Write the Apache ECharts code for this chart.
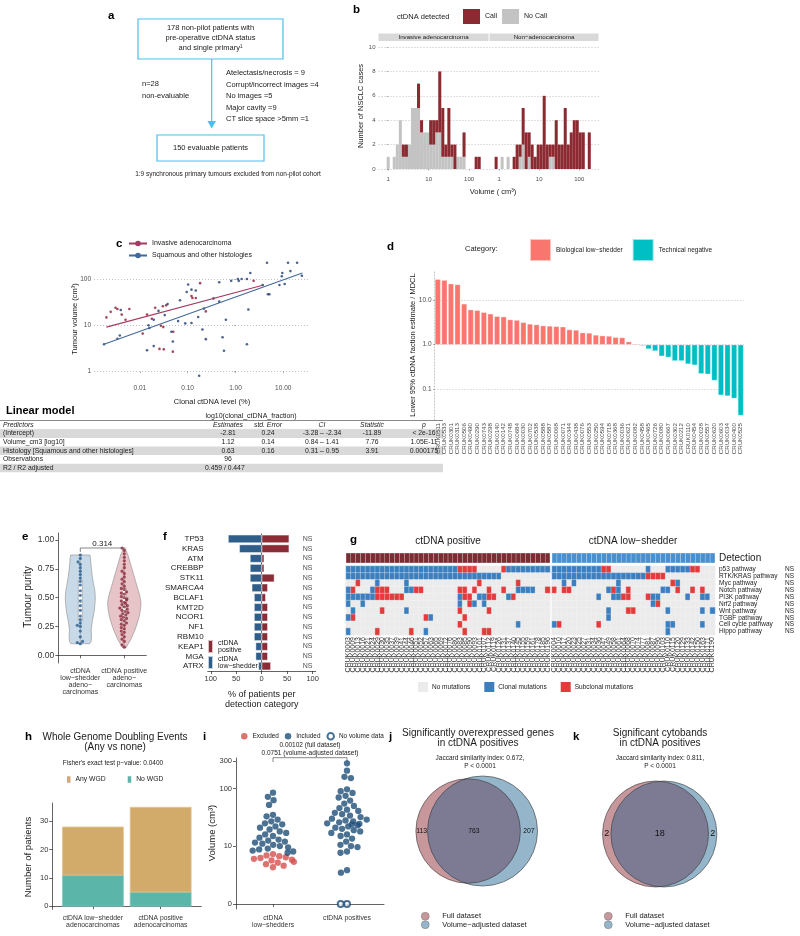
<!DOCTYPE html>
<html><head><meta charset="utf-8"><title>ctDNA figure</title>
<script src="https://cdn.jsdelivr.net/npm/echarts@6.0.0/dist/echarts.min.js"></script>
<style>html,body{margin:0;padding:0;background:#fff;}#chart{width:800px;height:936px;}</style>
</head><body><div id="chart"></div>
<script>
// ================= DATA =================
// Panel a (flow chart text)
const aTopBox = ['178 non-pilot patients with', 'pre-operative ctDNA status', 'and single primary\u00b9'];
const aNonEvaluable = ['n=28', 'non-evaluable'];
const aExcluded = ['Atelectasis/necrosis = 9', 'Corrupt/incorrect images =4', 'No images =5', 'Major cavity =9', 'CT slice space >5mm =1'];
const aBottomBox = '150 evaluable patients';
const aFootnote = '1:9 synchronous primary tumours excluded from non-pilot cohort';

// Panel b (histogram, bin centres in log10 cm3, bin width 0.075)
const bFacets = ['Invasive adenocarcinoma', 'Non\u2212adenocarcinoma'];
const bBinWidth = 0.075;
const bXTickValues = [0, 1, 2];
const bXTickLabels = ['1', '10', '100'];
const bYTickValues = [0, 2, 4, 6, 8, 10];
const bAdenoLogVol = [0.000,0.075,0.150,0.225,0.300,0.375,0.450,0.525,0.600,0.675,0.750,0.825,0.900,0.975,1.050,1.125,1.200,1.275,1.350,1.425,1.500,1.575,1.650,1.725,1.800,1.875,1.950,2.025,2.100,2.175,2.250];
const bAdenoNoCall = [1,0,1,2,4,1,1,2,5,5,5,3,3,3,2,2,3,3,1,1,1,1,0,1,1,1,0,0,0,0,0];
const bAdenoCall   = [0,0,0,0,0,1,1,0,0,0,2,1,0,0,2,2,1,5,4,1,4,1,2,0,0,2,0,0,0,1,1];
const bNonAdenoLogVol = [-0.075,0.000,0.075,0.150,0.225,0.300,0.375,0.450,0.525,0.600,0.675,0.750,0.825,0.900,0.975,1.050,1.125,1.200,1.275,1.350,1.425,1.500,1.575,1.650,1.725,1.800,1.875,1.950,2.025,2.100,2.175,2.250];
const bNonAdenoNoCall = [0,0,1,0,1,0,0,0,1,2,0,1,0,0,0,0,0,0,1,1,0,0,0,0,0,0,0,0,0,0,0,0];
const bNonAdenoCall   = [1,0,0,0,0,0,1,2,1,3,3,2,2,1,2,2,6,2,1,1,4,2,2,5,2,3,4,4,3,3,0,3];

// Panel c (log10 clonal ctDNA %, log10 volume cm3)
const cXTickValues = [-2, -1, 0, 1];
const cXTickLabels = ['0.01', '0.10', '1.00', '10.00'];
const cYTickValues = [0, 1, 2];
const cYTickLabels = ['1', '10', '100'];
const cAdenoLogCtDNA = [-2.70,-2.61,-2.51,-2.47,-2.38,-2.30,-2.22,-1.94,-1.85,-1.75,-1.68,-1.56,-1.51,-1.52,-1.45,-1.59,-1.50,-1.31,-1.30,-0.92,-0.90,-0.83,-0.74,-0.62,0.38];
const cAdenoLogVolume = [1.17,1.29,1.38,1.35,1.23,1.12,1.35,0.82,1.23,1.14,1.38,0.99,0.96,1.41,1.43,0.49,0.48,0.43,0.86,1.63,1.59,1.59,1.91,1.30,1.96];
const cSqLogCtDNA = [-2.75,-2.47,-2.42,-2.40,-1.85,-1.82,-1.80,-1.71,-1.71,-1.61,-1.48,-1.42,-1.34,-1.31,-1.20,-1.16,-1.05,-1.02,-0.99,-0.92,-0.92,-0.83,-0.78,-0.76,-0.69,-0.66,-0.62,-0.46,-0.34,-0.34,-0.27,-0.24,-0.20,-0.09,0.05,0.07,0.13,0.24,0.27,0.24,0.57,0.68,0.71,0.92,0.97,1.03,1.39,0.66,1.10,1.29,1.15,0.98,0.31];
const cSqLogVolume = [0.59,0.71,0.78,1.33,0.46,1.00,0.94,0.55,1.12,1.31,1.22,1.46,0.86,0.65,1.09,1.54,1.04,1.72,1.88,1.77,1.05,1.75,1.18,-0.09,0.91,1.36,0.70,1.58,1.51,1.93,0.74,0.45,1.12,1.96,2.00,1.96,2.00,2.00,1.34,0.59,1.87,1.67,1.67,1.87,2.06,1.89,2.07,2.35,2.35,2.35,2.17,2.13,2.13];
const cAdenoFitLogCtDNA = [-2.70, 0.59];
const cAdenoFitLogVolume = [0.96, 1.87];
const cSqFitLogCtDNA = [-2.75, 1.40];
const cSqFitLogVolume = [0.59, 2.13];

// Linear model table
const tTitle = 'Linear model';
const tResponse = 'log10(clonal_ctDNA_fraction)';
const tHeaders = ['Predictors', 'Estimates', 'std. Error', 'CI', 'Statistic', 'p'];
const tRows = [
  ['(Intercept)', '-2.81', '0.24', '-3.28 \u2013 -2.34', '-11.89', '< 2e-16'],
  ['Volume_cm3 [log10]', '1.12', '0.14', '0.84 \u2013 1.41', '7.76', '1.05E-11'],
  ['Histology [Squamous and other histologies]', '0.63', '0.16', '0.31 \u2013 0.95', '3.91', '0.000175'],
  ['Observations', '96', '', '', '', ''],
  ['R2 / R2 adjusted', '0.459 / 0.447', '', '', '', '']
];

// Panel d
const dIds = ['CRUK0511','CRUK0533','CRUK0301','CRUK0313','CRUK0506','CRUK0490','CRUK0290','CRUK0743','CRUK0298','CRUK0140','CRUK0142','CRUK0748','CRUK0684','CRUK0030','CRUK0702','CRUK0538','CRUK0588','CRUK0587','CRUK0068','CRUK0071','CRUK0344','CRUK0438','CRUK0076','CRUK0553','CRUK0250','CRUK0594','CRUK0718','CRUK0368','CRUK0036','CRUK0621','CRUK0082','CRUK0458','CRUK0465','CRUK0726','CRUK0080','CRUK0667','CRUK0302','CRUK0212','CRUK0110','CRUK0454','CRUK0028','CRUK0557','CRUK0620','CRUK0603','CRUK0034','CRUK0400','CRUK0525'];
const dRatio = [30.3,28.9,24,23,8.4,6.2,6.0,5.4,5.0,4.4,4.3,3.7,3.6,3.2,2.95,2.85,2.7,2.65,2.6,2.55,2.2,2.15,1.87,1.84,1.66,1.6,1.57,1.47,1.45,1.17,1.05,0.95,0.80,0.72,0.55,0.52,0.43,0.43,0.365,0.345,0.22,0.215,0.155,0.072,0.069,0.061,0.025];
const dCategoryCode = 'BBBBBBBBBBBBBBBBBBBBBBBBBBBBBBBTTTTTTTTTTTTTTTT'.split('');
const dCategoryNames = {B: 'Biological low\u2212shedder', T: 'Technical negative'};
const dYTickValues = [-1, 0, 1];
const dYTickLabels = ['0.1', '1.0', '10.0'];

// Panel e
const eGroups = ['ctDNA\nlow\u2212shedder\nadeno\u2212\ncarcinomas', 'ctDNA positive\nadeno\u2212\ncarcinomas'];
const eYTickValues = [0, 0.25, 0.5, 0.75, 1];
const ePurityLow = [0.10,0.11,0.12,0.16,0.21,0.25,0.26,0.28,0.31,0.34,0.39,0.43,0.47,0.52,0.56,0.61,0.64,0.67,0.70,0.73,0.76,0.79,0.81,0.84,0.87];
const ePurityPos = [0.07,0.09,0.12,0.14,0.16,0.18,0.20,0.21,0.23,0.24,0.26,0.27,0.28,0.30,0.31,0.32,0.33,0.34,0.35,0.36,0.37,0.38,0.39,0.40,0.41,0.42,0.43,0.44,0.45,0.46,0.47,0.48,0.49,0.50,0.51,0.53,0.54,0.55,0.57,0.58,0.60,0.62,0.64,0.66,0.68,0.71,0.73,0.76,0.79,0.82,0.85,0.88,0.91,0.93];
const eViolinLow = [[0.10,0.56],[0.12,0.65],[0.16,0.67],[0.22,0.65],[0.30,0.72],[0.38,0.83],[0.45,0.88],[0.50,0.90],[0.56,0.87],[0.62,0.79],[0.68,0.72],[0.74,0.67],[0.80,0.63],[0.84,0.61],[0.87,0.58]];
const eViolinPos = [[0.07,0.12],[0.10,0.24],[0.14,0.40],[0.18,0.52],[0.22,0.64],[0.28,0.78],[0.34,0.90],[0.40,0.97],[0.46,1.00],[0.52,0.92],[0.58,0.80],[0.64,0.68],[0.70,0.56],[0.76,0.44],[0.82,0.32],[0.87,0.22],[0.91,0.10],[0.93,0.04]];
const eBoxLow = [0.10, 0.30, 0.48, 0.65, 0.87];
const eBoxPos = [0.07, 0.29, 0.42, 0.58, 0.93];
const ePValue = '0.314';

// Panel f
const fGenes = ['TP53','KRAS','ATM','CREBBP','STK11','SMARCA4','BCLAF1','KMT2D','NCOR1','NF1','RBM10','KEAP1','MGA','ATRX'];
const fLowShedderPct = [66,44,23,23,23,19.5,15,15,15,15,15,12,12,6.5];
const fPositivePct = [54,54,5,5,25,12,8,12,12,12,12,12,12,18];
const fSignificance = ['NS','NS','NS','NS','NS','NS','NS','NS','NS','NS','NS','NS','NS','NS'];
const fXTickValues = [-100, -50, 0, 50, 100];
const fXTickLabels = ['100', '50', '0', '50', '100'];

// Panel g
const gPathways = ['p53 pathway','RTK/KRAS pathway','Myc pathway','Notch pathway','PI3K pathway','Nrf2 pathway','Wnt pathway','TGBF pathway','Cell cycle pathway','Hippo pathway'];
const gPathwaySignif = ['NS','NS','NS','NS','NS','NS','NS','NS','NS','NS'];
const gPosSamples = ['CRUK0003','CRUK0009','CRUK0013','CRUK0016','CRUK0021','CRUK0024','CRUK0029','CRUK0030','CRUK0035','CRUK0037','CRUK0039','CRUK0041','CRUK0044','CRUK0046','CRUK0051','CRUK0052','CRUK0057','CRUK0063','CRUK0065','CRUK0069','CRUK0072','CRUK0076','CRUK0080','CRUK0083','CRUK0085','CRUK0090','CRUK0093','CRUK0101','CRUK0107','CRUK0112','CRUK0119','CRUK0126','CRUK0131','CRUK0137','CRUK0140','CRUK0145','CRUK0155','CRUK0159','CRUK0161','CRUK0178','CRUK0185','CRUK0196'];
const gLowSamples = ['CRUK0004','CRUK0010','CRUK0017','CRUK0020','CRUK0023','CRUK0025','CRUK0027','CRUK0031','CRUK0034','CRUK0036','CRUK0047','CRUK0049','CRUK0058','CRUK0061','CRUK0064','CRUK0068','CRUK0070','CRUK0074','CRUK0077','CRUK0081','CRUK0087','CRUK0096','CRUK0103','CRUK0110','CRUK0115','CRUK0120','CRUK0129','CRUK0133','CRUK0142','CRUK0150','CRUK0163','CRUK0171','CRUK0190'];
// mutation segments per pathway: [firstSample, lastSample, status] status 1 = clonal, 2 = subclonal
const gPosSegments = [
  [[0,22,1],[23,26,2],[32,32,2],[33,41,1]],
  [[0,31,1]],
  [[2,2,2],[6,6,1],[12,12,1],[27,27,2],[35,35,2]],
  [[0,0,1],[1,1,2],[5,5,1],[6,8,2],[12,13,1],[14,15,2],[23,24,2],[26,26,2],[29,29,2],[32,32,2],[35,38,1],[41,41,2]],
  [[0,5,1],[6,11,2],[23,23,1],[24,25,2],[27,28,1],[29,30,2],[33,33,1],[34,34,2]],
  [[0,0,1],[3,3,1],[23,23,1],[25,25,2],[26,26,1],[28,28,1]],
  [[1,1,1],[7,7,2],[12,12,1],[23,23,2],[29,29,2]],
  [[0,0,1],[1,1,2],[16,16,2],[17,17,1],[24,24,2]],
  [[23,23,2],[35,35,1]],
  [[0,0,1],[6,6,2],[13,13,2],[16,16,1],[24,24,2],[28,29,2]]
];
const gLowSegments = [
  [[0,9,1],[10,11,2],[19,19,1],[23,27,1],[28,29,2]],
  [[0,18,1],[19,22,2]],
  [[2,2,1],[4,4,1],[13,13,1],[24,24,2],[25,25,1]],
  [[0,0,2],[2,3,2],[11,11,1],[12,12,2],[13,13,1],[15,15,2],[22,23,1],[25,25,2],[28,28,2],[30,30,2]],
  [[9,9,1],[12,13,1],[14,15,2],[19,19,2],[20,21,1],[27,27,1],[30,31,1]],
  [[20,20,1],[21,21,2]],
  [[11,11,1],[15,16,2],[23,23,1],[30,30,1],[32,32,1]],
  [[11,11,1]],
  [[0,0,1],[1,1,2],[9,9,2],[23,24,1],[30,30,1]],
  [[23,23,1]]
];
const gStatusLabels = ['No mutations', 'Clonal mutations', 'Subclonal mutations'];

// Panel h
const hGroups = ['ctDNA low\u2212shedder\nadenocarcinomas', 'ctDNA positive\nadenocarcinomas'];
const hNoWGD = [11, 5];
const hAnyWGD = [17, 30];
const hYTickValues = [0, 10, 20, 30];
const hFisher = "Fisher's exact test p\u2212value: 0.0400";

// Panel i (volume cm3)
const iGroups = ['ctDNA\nlow\u2212shedders', 'ctDNA positives'];
const iLowIncluded = [85,72,63,52,35,33,29,27,25,24,22,21,19.5,18,17,16,15,14,13,12.5,12,11.5,11,10.5,10,9.5,9,8.7,8.3,8,7.6];
const iLowExcluded = [7.2,6.8,6.6,6.3,6.1,5.9,5.7,5.5,5.2,5.0,4.7,4.4,4.1];
const iPosIncluded = [274,204,160,152,97,90,84,75,70,62,55,50,46,43,41,38,36,34,32,30,29,28,27,26,25,24.5,24,23,22,21,20,19,18,17,16,15,13.5,12,10.5,10,9.6,8,7.6,3.6,3.2];
const iPosNoVolume = [0, 0];
const iYTicks = [0, 10, 100, 300];
const iPValues = ['0.00102 (full dataset)', '0.0751 (volume-adjusted dataset)'];

// Panels j, k (Venn counts)
const jFullOnly = 113, jBoth = 763, jVolumeOnly = 207;
const kFullOnly = 2, kBoth = 18, kVolumeOnly = 2;
const jTitle = ['Significantly overexpressed genes', 'in ctDNA positives'];
const jStats = ['Jaccard similarity index: 0.672,', 'P < 0.0001'];
const kTitle = ['Significant cytobands', 'in ctDNA positives'];
const kStats = ['Jaccard similarity index: 0.811,', 'P < 0.0001'];
const vennSets = ['Full dataset', 'Volume\u2212adjusted dataset'];

// ================= STYLE =================
const FONT = '"Liberation Sans", Arial, Helvetica, sans-serif';
const TICK = '#4d4d4d';
const INK = '#1a1a1a';
const COL = {
  call:'#8b2a31', noCall:'#c3c3c3', strip:'#d9d9d9',
  cRed:'#8b1d33', cBlue:'#1f3d70', cRedLine:'#a33b62', cBlueLine:'#41699a',
  dRed:'#f8766d', dTeal:'#00bfc4',
  eBlueFill:'#c8d9e7', eRedFill:'#e7c4c7', eBluePt:'#2b5d8c', eRedPt:'#8b2b3c',
  fBlue:'#2e5e89', fRed:'#8c2c37',
  gNone:'#ebebeb', gClonal:'#3b7fc0', gSub:'#e33b3b', gDetPos:'#7b2d34', gDetLow:'#4a90cf',
  hGold:'#d2ab6b', hTeal:'#5bb5a9',
  iRed:'#d4504d', iBlue:'#1e4d78',
  vPink:'#c8979c', vBlue:'#95b6ca', vOverlap:'#7c7b93',
  flow:'#4dbfec'
};
const dotted = {type:[1,2], color:'#a8a8a8', width:0.7};
const lab = (vals, labels, v) => { const i = vals.findIndex(x => Math.abs(x - v) < 1e-6); return i < 0 ? '' : labels[i]; };
const pseudoLog = v => Math.asinh(v / 2) / Math.LN10;

// ================= LAYOUT =================
const grids = [
  {left:378.5, top:44.6, width:110, height:124.4},   // 0 b adeno
  {left:489.5, top:44.6, width:109, height:124.4},   // 1 b non-adeno
  {left:94, top:260, width:216, height:118.5},       // 2 c
  {left:434.5, top:271.7, width:309.5, height:148.3},// 3 d
  {left:58.3, top:533, width:88, height:130},        // 4 e
  {left:207.7, top:534, width:108, height:137},      // 5 f
  {left:346, top:566, width:204, height:69},         // 6 g positive
  {left:552, top:566, width:163, height:69},         // 7 g low-shedder
  {left:346, top:553, width:204, height:10},         // 8 detection pos
  {left:552, top:553, width:163, height:10},         // 9 detection low
  {left:52.3, top:803, width:149, height:106.3},     // 10 h
  {left:236, top:758, width:148, height:151},        // 11 i
  {left:406.7, top:761, width:140, height:140},      // 12 j
  {left:589.7, top:764, width:140, height:140}       // 13 k
].map(g => Object.assign({containLabel:false, outerBoundsMode:'none'}, g));

const blackLine = {show:true, lineStyle:{color:'#222', width:0.7}};
const blackTick = {show:true, length:3, lineStyle:{color:'#222', width:0.7}};
const hidden = (gi, type, extra) => Object.assign({gridIndex:gi, type, show:false}, extra || {});

const xAxes = [];
const yAxes = [];
// b
[0, 1].forEach(k => {
  xAxes.push({gridIndex:k, type:'value', min:-0.24, max:2.48, axisLine:{show:false},
    axisTick:{show:true, length:1.5, customValues:bXTickValues, lineStyle:{color:'#777', width:0.6}},
    axisLabel:{customValues:bXTickValues, formatter: v => lab(bXTickValues, bXTickLabels, v), fontSize:6, color:TICK, margin:7},
    splitLine:{show:false}});
  yAxes.push({gridIndex:k, type:'value', min:0, max:10.2, axisLine:{show:false},
    axisTick:{show:k === 0, length:1.5, customValues:bYTickValues, lineStyle:{color:'#777', width:0.6}},
    axisLabel:{show:k === 0, customValues:bYTickValues, fontSize:6, color:TICK, margin:3},
    splitLine:{show:true, lineStyle:dotted}});
});
// c
xAxes.push({gridIndex:2, type:'value', min:-2.96, max:1.56, axisLine:{show:false},
  axisTick:{show:true, length:1.5, customValues:cXTickValues, lineStyle:{color:'#777', width:0.6}},
  axisLabel:{customValues:cXTickValues, formatter: v => lab(cXTickValues, cXTickLabels, v), fontSize:6.5, color:TICK, margin:6},
  splitLine:{show:false}});
yAxes.push({gridIndex:2, type:'value', min:-0.15, max:2.41, axisLine:{show:false},
  axisTick:{show:true, length:1.5, customValues:cYTickValues, lineStyle:{color:'#777', width:0.6}},
  axisLabel:{customValues:cYTickValues, formatter: v => lab(cYTickValues, cYTickLabels, v), fontSize:6.5, color:TICK, margin:3},
  splitLine:{show:true, lineStyle:dotted}});
// d
xAxes.push({gridIndex:3, type:'category', data:dIds, axisLine:{show:false}, axisTick:{show:false},
  axisLabel:{rotate:90, interval:0, fontSize:6.2, color:TICK, margin:3}});
yAxes.push({gridIndex:3, type:'value', min:-1.704, max:1.652,
  axisLine:{show:true, lineStyle:dotted},
  axisTick:{show:true, length:1.5, customValues:dYTickValues, lineStyle:{color:'#777', width:0.6}},
  axisLabel:{customValues:dYTickValues, formatter: v => lab(dYTickValues, dYTickLabels, v), fontSize:6.5, color:TICK, margin:3},
  splitLine:{show:true, lineStyle:dotted}});
// e
xAxes.push({gridIndex:4, type:'category', data:eGroups, axisLine:blackLine, axisTick:Object.assign({alignWithLabel:true}, blackTick),
  axisLabel:{fontSize:7, lineHeight:7, color:'#333', margin:5, interval:0},
  jitter:10, jitterOverlap:false, jitterMargin:0});
yAxes.push({gridIndex:4, type:'value', min:-0.067, max:1.061, axisLine:blackLine,
  axisTick:Object.assign({customValues:eYTickValues}, blackTick),
  axisLabel:{customValues:eYTickValues, formatter: v => v.toFixed(2), fontSize:8.5, color:'#333', margin:4},
  splitLine:{show:false}});
// f
xAxes.push({gridIndex:5, type:'value', min:-106, max:106, axisLine:blackLine,
  axisTick:Object.assign({customValues:fXTickValues}, blackTick),
  axisLabel:{customValues:fXTickValues, formatter: v => lab(fXTickValues, fXTickLabels, v), fontSize:7.5, color:'#333', margin:4},
  splitLine:{show:false}});
yAxes.push({gridIndex:5, type:'category', data:fGenes, inverse:true, axisLine:blackLine, axisTick:Object.assign({alignWithLabel:true}, blackTick),
  axisLabel:{fontSize:8, color:'#222', margin:4, interval:0}});
// g heatmaps
xAxes.push({gridIndex:6, type:'category', data:gPosSamples, axisLine:{show:false}, axisTick:{show:false},
  axisLabel:{rotate:90, interval:0, fontSize:7, color:'#333', margin:2}});
yAxes.push({gridIndex:6, type:'category', data:gPathways, inverse:true, axisLine:{show:false}, axisTick:{show:false}, axisLabel:{show:false}});
xAxes.push({gridIndex:7, type:'category', data:gLowSamples, axisLine:{show:false}, axisTick:{show:false},
  axisLabel:{rotate:90, interval:0, fontSize:7, color:'#333', margin:2}});
yAxes.push({gridIndex:7, type:'category', data:gPathways, inverse:true, position:'right', axisLine:{show:false}, axisTick:{show:false},
  axisLabel:{margin:4, interval:0, formatter: (v, i) => '{p|' + v + '}{n|' + gPathwaySignif[i] + '}',
    rich:{p:{width:66, fontSize:6.5, color:'#222', fontFamily:FONT}, n:{fontSize:6.5, color:'#222', fontFamily:FONT}}}});
xAxes.push(hidden(8, 'category', {data:gPosSamples}));
yAxes.push(hidden(8, 'value', {min:0, max:1}));
xAxes.push(hidden(9, 'category', {data:gLowSamples}));
yAxes.push(hidden(9, 'value', {min:0, max:1}));
// h
xAxes.push({gridIndex:10, type:'value', min:0.4, max:2.6, axisLine:blackLine,
  axisTick:Object.assign({customValues:[1, 2]}, blackTick),
  axisLabel:{customValues:[1, 2], formatter: v => hGroups[Math.round(v) - 1], fontSize:6.8, lineHeight:7.5, color:'#333', margin:5},
  splitLine:{show:false}});
yAxes.push({gridIndex:10, type:'value', min:-1.1, max:36.5, axisLine:blackLine,
  axisTick:Object.assign({customValues:hYTickValues}, blackTick),
  axisLabel:{customValues:hYTickValues, fontSize:7.5, color:'#333', margin:4},
  splitLine:{show:false}});
// i
const iYTicksT = iYTicks.map(pseudoLog);
xAxes.push({gridIndex:11, type:'category', data:iGroups, axisLine:blackLine, axisTick:Object.assign({alignWithLabel:true}, blackTick),
  axisLabel:{fontSize:6.8, lineHeight:7.5, color:'#333', margin:5, interval:0},
  jitter:44, jitterOverlap:false, jitterMargin:0.3});
yAxes.push({gridIndex:11, type:'value', min:-0.087, max:2.53, axisLine:blackLine,
  axisTick:Object.assign({customValues:iYTicksT}, blackTick),
  axisLabel:{customValues:iYTicksT, formatter: v => lab(iYTicksT, iYTicks.map(String), v), fontSize:7.5, color:'#333', margin:4},
  splitLine:{show:false}});
// j, k
[12, 13].forEach(gi => {
  xAxes.push(hidden(gi, 'value', {min:-70, max:70}));
  yAxes.push(hidden(gi, 'value', {min:-70, max:70}));
});

// ================= SERIES =================
const series = [];
// stacked rectangle renderer: data item = [x, y0, y1]; width in x data units
const stackRect = (width, stroke) => (params, api) => {
  const x = api.value(0), y0 = api.value(1), y1 = api.value(2);
  if (!(y1 > y0)) return null;
  const p0 = api.coord([x - width / 2, y0]), p1 = api.coord([x + width / 2, y1]);
  return {type:'rect', shape:{x:p0[0], y:p1[1], width:p1[0] - p0[0], height:p0[1] - p1[1]},
    style:{fill:api.visual('color'), stroke:stroke || null, lineWidth:stroke ? 0.8 : 0}};
};
// b
[[0, bAdenoLogVol, bAdenoNoCall, bAdenoCall], [1, bNonAdenoLogVol, bNonAdenoNoCall, bNonAdenoCall]].forEach(([gi, xs, nc, c]) => {
  series.push({type:'custom', name:'No Call', xAxisIndex:gi, yAxisIndex:gi, silent:true, itemStyle:{color:COL.noCall},
    encode:{x:0, y:[1, 2]}, renderItem:stackRect(bBinWidth), data: xs.map((x, i) => [x, 0, nc[i]])});
  series.push({type:'custom', name:'Call', xAxisIndex:gi, yAxisIndex:gi, silent:true, itemStyle:{color:COL.call},
    encode:{x:0, y:[1, 2]}, renderItem:stackRect(bBinWidth), data: xs.map((x, i) => [x, nc[i], nc[i] + c[i]])});
});
// c
series.push({type:'line', name:'Invasive adenocarcinoma', xAxisIndex:2, yAxisIndex:2, symbol:'circle', symbolSize:2.5, showSymbol:false,
  lineStyle:{color:COL.cRedLine, width:1.1}, itemStyle:{color:COL.cRedLine},
  data: cAdenoFitLogCtDNA.map((x, i) => [x, cAdenoFitLogVolume[i]])});
series.push({type:'line', name:'Squamous and other histologies', xAxisIndex:2, yAxisIndex:2, symbol:'circle', symbolSize:2.5, showSymbol:false,
  lineStyle:{color:COL.cBlueLine, width:1.1}, itemStyle:{color:COL.cBlueLine},
  data: cSqFitLogCtDNA.map((x, i) => [x, cSqFitLogVolume[i]])});
series.push({type:'scatter', name:'Invasive adenocarcinoma', xAxisIndex:2, yAxisIndex:2, symbolSize:2.6,
  itemStyle:{color:COL.cRed}, data: cAdenoLogCtDNA.map((x, i) => [x, cAdenoLogVolume[i]])});
series.push({type:'scatter', name:'Squamous and other histologies', xAxisIndex:2, yAxisIndex:2, symbolSize:2.6,
  itemStyle:{color:COL.cBlue}, data: cSqLogCtDNA.map((x, i) => [x, cSqLogVolume[i]])});
// d
['B', 'T'].forEach(code => {
  series.push({type:'bar', name:dCategoryNames[code], xAxisIndex:3, yAxisIndex:3, barWidth:'86%', barGap:'-100%',
    itemStyle:{color: code === 'B' ? COL.dRed : COL.dTeal, borderColor:'rgba(255,255,255,0.6)', borderWidth:0.5},
    data: dRatio.map((v, i) => dCategoryCode[i] === code ? Math.log10(v) : '-')});
});
// e violins
series.push({type:'custom', xAxisIndex:4, yAxisIndex:4, silent:true, data:[[0, 0], [1, 0]], encode:{x:0, y:1},
  renderItem: (params, api) => {
    const gi = api.value(0);
    const prof = gi === 0 ? eViolinLow : eViolinPos;
    const half = api.size([1, 0])[0] * 0.38;
    const right = prof.map(([p, d]) => { const c = api.coord([gi, p]); return [c[0] + d * half, c[1]]; });
    const left = prof.slice().reverse().map(([p, d]) => { const c = api.coord([gi, p]); return [c[0] - d * half, c[1]]; });
    return {type:'polygon', shape:{points:right.concat(left)},
      style:{fill: gi === 0 ? COL.eBlueFill : COL.eRedFill, stroke:'#8d8d8d', lineWidth:0.6}};
  }});
series.push({type:'boxplot', xAxisIndex:4, yAxisIndex:4, silent:true, boxWidth:[4, 4], data:[eBoxLow, eBoxPos],
  itemStyle:{color:'#ffffff', borderColor:'#9a9a9a', borderWidth:0.6}});
series.push({type:'scatter', xAxisIndex:4, yAxisIndex:4, symbolSize:3.2, itemStyle:{color:COL.eBluePt},
  data: ePurityLow.map(v => [0, v])});
series.push({type:'scatter', xAxisIndex:4, yAxisIndex:4, symbolSize:3.2, itemStyle:{color:COL.eRedPt},
  data: ePurityPos.map(v => [1, v])});
// f
series.push({type:'bar', name:'ctDNA low\u2212shedder', xAxisIndex:5, yAxisIndex:5, barWidth:'84%', barGap:'-100%',
  itemStyle:{color:COL.fBlue, borderColor:'rgba(255,255,255,0.7)', borderWidth:0.6}, data: fLowShedderPct.map(v => -v)});
series.push({type:'bar', name:'ctDNA positive', xAxisIndex:5, yAxisIndex:5, barWidth:'84%', barGap:'-100%',
  itemStyle:{color:COL.fRed, borderColor:'rgba(255,255,255,0.7)', borderWidth:0.6}, data: fPositivePct});
series.push({type:'scatter', xAxisIndex:5, yAxisIndex:5, symbolSize:1, silent:true, itemStyle:{color:'rgba(0,0,0,0)'},
  label:{show:true, position:'inside', formatter: p => fSignificance[p.dataIndex], fontSize:7, color:'#222'},
  data: fGenes.map(g => [90, g])});
// g
const expand = (segs, n) => { const a = new Array(n).fill(0); segs.forEach(([s, e, c]) => { for (let i = s; i <= e; i++) a[i] = c; }); return a; };
const gPosData = [], gLowData = [];
gPathways.forEach((p, r) => {
  expand(gPosSegments[r], gPosSamples.length).forEach((v, c) => gPosData.push([c, r, v]));
  expand(gLowSegments[r], gLowSamples.length).forEach((v, c) => gLowData.push([c, r, v]));
});
const heatIdx = [];
heatIdx.push(series.length);
series.push({type:'heatmap', xAxisIndex:6, yAxisIndex:6, data:gPosData, silent:true, itemStyle:{borderColor:'#f6f6f6', borderWidth:0.35}});
heatIdx.push(series.length);
series.push({type:'heatmap', xAxisIndex:7, yAxisIndex:7, data:gLowData, silent:true, itemStyle:{borderColor:'#f6f6f6', borderWidth:0.35}});
series.push({type:'bar', xAxisIndex:8, yAxisIndex:8, barWidth:'100%', silent:true,
  itemStyle:{color:COL.gDetPos, borderColor:'rgba(255,255,255,0.12)', borderWidth:0.3}, data: gPosSamples.map(() => 1)});
series.push({type:'bar', xAxisIndex:9, yAxisIndex:9, barWidth:'100%', silent:true,
  itemStyle:{color:COL.gDetLow, borderColor:'rgba(255,255,255,0.12)', borderWidth:0.3}, data: gLowSamples.map(() => 1)});
// h (stacked: No WGD at the bottom, Any WGD on top; bar width 0.9 category units)
series.push({type:'custom', name:'No WGD', xAxisIndex:10, yAxisIndex:10, silent:true, itemStyle:{color:COL.hTeal},
  encode:{x:0, y:[1, 2]}, renderItem:stackRect(0.9, '#84cabe'), data: hNoWGD.map((v, i) => [i + 1, 0, v])});
series.push({type:'custom', name:'Any WGD', xAxisIndex:10, yAxisIndex:10, silent:true, itemStyle:{color:COL.hGold},
  encode:{x:0, y:[1, 2]}, renderItem:stackRect(0.9, '#e3c48f'), data: hAnyWGD.map((v, i) => [i + 1, hNoWGD[i], hNoWGD[i] + v])});
// i
series.push({type:'scatter', name:'Excluded', xAxisIndex:11, yAxisIndex:11, symbolSize:6.3,
  itemStyle:{color:COL.iRed}, data: iLowExcluded.map(v => [0, pseudoLog(v)])});
series.push({type:'scatter', name:'Included', xAxisIndex:11, yAxisIndex:11, symbolSize:6.3,
  itemStyle:{color:COL.iBlue}, data: iLowIncluded.map(v => [0, pseudoLog(v)]).concat(iPosIncluded.map(v => [1, pseudoLog(v)]))});
series.push({type:'scatter', name:'No volume data', xAxisIndex:11, yAxisIndex:11, symbol:'emptyCircle', symbolSize:6,
  itemStyle:{color:COL.iBlue, borderColor:COL.iBlue, borderWidth:1}, data: iPosNoVolume.map(v => [1, pseudoLog(v)])});

// j, k Venn diagrams (circle areas proportional to set sizes, overlap area to intersection)
function vennGeometry(onlyA, both, onlyB, R) {
  const A1 = onlyA + both, A2 = onlyB + both;
  const s = R / Math.sqrt(Math.max(A1, A2));
  const r1 = Math.sqrt(A1) * s, r2 = Math.sqrt(A2) * s;
  const target = both * s * s * Math.PI;
  const lens = d => {
    if (d >= r1 + r2) return 0;
    if (d <= Math.abs(r1 - r2)) return Math.PI * Math.min(r1, r2) ** 2;
    const a1 = Math.acos((d * d + r1 * r1 - r2 * r2) / (2 * d * r1));
    const a2 = Math.acos((d * d + r2 * r2 - r1 * r1) / (2 * d * r2));
    return r1 * r1 * a1 + r2 * r2 * a2 - 0.5 * Math.sqrt((-d + r1 + r2) * (d + r1 - r2) * (d - r1 + r2) * (d + r1 + r2));
  };
  let lo = Math.abs(r1 - r2), hi = r1 + r2;
  for (let i = 0; i < 60; i++) { const mid = (lo + hi) / 2; if (lens(mid) > target) lo = mid; else hi = mid; }
  const d = (lo + hi) / 2, m = (d + r2 - r1) / 2;
  return {r1, r2, c1:-m, c2:d - m, counts:[onlyA, both, onlyB]};
}
const jGeom = vennGeometry(jFullOnly, jBoth, jVolumeOnly, 55);
const kGeom = vennGeometry(kFullOnly, kBoth, kVolumeOnly, 53);
[[12, jGeom, 6.8, 6.8], [13, kGeom, 9, 9]].forEach(([gi, g, fsSide, fsMid]) => {
  series.push({type:'custom', name:vennSets[0], xAxisIndex:gi, yAxisIndex:gi, silent:true, itemStyle:{color:COL.vPink},
    data:[[0, 0]], renderItem: (params, api) => {
      const c = api.coord([g.c1, 0]); const r = api.size([2 * g.r1, 0])[0] / 2;
      return {type:'circle', shape:{cx:c[0], cy:c[1], r}, style:{fill:COL.vPink}};
    }});
  series.push({type:'custom', name:vennSets[1], xAxisIndex:gi, yAxisIndex:gi, silent:true, itemStyle:{color:COL.vBlue},
    data:[[0, 0]], renderItem: (params, api) => {
      const p1 = api.coord([g.c1, 0]), p2 = api.coord([g.c2, 0]);
      const R1 = api.size([2 * g.r1, 0])[0] / 2, R2 = api.size([2 * g.r2, 0])[0] / 2;
      const D = p2[0] - p1[0];
      const a = (D * D + R1 * R1 - R2 * R2) / (2 * D);
      const h = Math.sqrt(Math.max(R1 * R1 - a * a, 0));
      const xi = p1[0] + a, yt = p1[1] - h, yb = p1[1] + h;
      const la1 = a < 0 ? 1 : 0, la2 = (D - a) < 0 ? 1 : 0;
      const lensPath = 'M' + xi + ',' + yt + ' A' + R1 + ',' + R1 + ' 0 ' + la1 + ' 1 ' + xi + ',' + yb +
        ' A' + R2 + ',' + R2 + ' 0 ' + la2 + ' 1 ' + xi + ',' + yt + ' Z';
      const txt = (x, t, fs) => ({type:'text', style:{text:String(t), x, y:p1[1], align:'center', verticalAlign:'middle', fontSize:fs, fill:'#111', fontFamily:FONT}});
      return {type:'group', children:[
        {type:'circle', shape:{cx:p2[0], cy:p2[1], r:R2}, style:{fill:COL.vBlue}},
        {type:'path', shape:{pathData:lensPath}, style:{fill:COL.vOverlap}},
        {type:'circle', shape:{cx:p1[0], cy:p1[1], r:R1}, style:{fill:'none', stroke:'#3a3a3a', lineWidth:0.6}},
        {type:'circle', shape:{cx:p2[0], cy:p2[1], r:R2}, style:{fill:'none', stroke:'#3a3a3a', lineWidth:0.6}},
        txt(((p1[0] - R1) + (p2[0] - R2)) / 2, g.counts[0], fsSide),
        txt(((p2[0] - R2) + (p1[0] + R1)) / 2, g.counts[1], fsMid),
        txt(((p1[0] + R1) + (p2[0] + R2)) / 2, g.counts[2], fsSide)
      ]};
    }});
});

// ================= LEGENDS =================
const legTxt = (fs) => ({fontSize:fs, color:INK, fontFamily:FONT});
const legends = [
  {data:['Call', 'No Call'], left:463, top:9, padding:0, itemWidth:17, itemHeight:15, itemGap:5, icon:'rect', selectedMode:false, textStyle:legTxt(7)},
  {data:['Invasive adenocarcinoma', 'Squamous and other histologies'], left:128, top:240, padding:0, orient:'vertical', itemWidth:18, itemHeight:7, itemGap:5, selectedMode:false, textStyle:legTxt(7)},
  {data:[dCategoryNames.B, dCategoryNames.T], left:529, top:238, padding:0, itemWidth:21, itemHeight:22, itemGap:9, icon:'rect', selectedMode:false, textStyle:legTxt(6.5)},
  {data:['ctDNA positive', 'ctDNA low\u2212shedder'], left:207, top:639, padding:0, orient:'vertical', itemWidth:5, itemHeight:13, itemGap:1, icon:'rect', selectedMode:false,
    formatter: n => n.replace(' ', '\n'), textStyle:Object.assign(legTxt(7), {lineHeight:6.5})},
  {data:['Any WGD', 'No WGD'], left:67, top:776, padding:0, itemWidth:3.5, itemHeight:6.5, itemGap:22, icon:'rect', selectedMode:false, textStyle:legTxt(6.8)},
  {data:['Excluded', 'Included', 'No volume data'], left:241, top:732, padding:0, itemWidth:6.5, itemHeight:6.5, itemGap:6, selectedMode:false, textStyle:legTxt(6.4)},
  {data:vennSets, left:421, top:912, padding:0, orient:'vertical', itemWidth:8, itemHeight:8, itemGap:0, icon:'circle', selectedMode:false,
    itemStyle:{borderColor:'#777', borderWidth:0.5}, textStyle:Object.assign(legTxt(7.5), {padding:[0, 0, 0, 8]})},
  {data:vennSets, left:604, top:912, padding:0, orient:'vertical', itemWidth:8, itemHeight:8, itemGap:0, icon:'circle', selectedMode:false,
    itemStyle:{borderColor:'#777', borderWidth:0.5}, textStyle:Object.assign(legTxt(7.5), {padding:[0, 0, 0, 8]})}
];

// ================= GRAPHIC (labels, flow chart, table) =================
const G = [];
const text = (x, y, t, o) => { o = o || {}; G.push({type:'text', x, y, rotation:o.rot || 0, silent:true,
  style:{text:t, fontSize:o.size || 7, fontFamily:FONT, fontWeight:o.bold ? 'bold' : 'normal', fontStyle:o.italic ? 'italic' : 'normal',
    fill:o.color || INK, align:o.align || 'left', verticalAlign:o.valign || 'middle'}}); };
const rect = (x, y, w, h, st) => G.push({type:'rect', silent:true, shape:{x, y, width:w, height:h}, style:st});
const line = (x1, y1, x2, y2, st) => G.push({type:'line', silent:true, shape:{x1, y1, x2, y2}, style:st});
const poly = (pts, st) => G.push({type:'polyline', silent:true, shape:{points:pts}, style:Object.assign({fill:null}, st)});
const letter = (x, y, t) => text(x, y, t, {size:11.5, bold:true, color:'#000'});

// a
letter(108, 16, 'a');
rect(138, 19, 145, 40, {fill:'none', stroke:COL.flow, lineWidth:1.2});
aTopBox.forEach((t, i) => text(210.5, 27.5 + i * 10, t, {align:'center', size:7.5}));
line(211.7, 59, 211.7, 122, {stroke:COL.flow, lineWidth:1.2});
G.push({type:'polygon', silent:true, shape:{points:[[207.4, 121], [216, 121], [211.7, 128.5]]}, style:{fill:COL.flow}});
aNonEvaluable.forEach((t, i) => text(142, 83.5 + i * 12, t, {size:7.5}));
aExcluded.forEach((t, i) => text(226, 73 + i * 11.6, t, {size:7.5}));
rect(157, 135, 107, 26, {fill:'none', stroke:COL.flow, lineWidth:1.2});
text(210.5, 148, aBottomBox, {align:'center', size:7.5});
text(228, 174, aFootnote, {align:'center', size:6.5});

// b
letter(353, 10, 'b');
text(397, 17, 'ctDNA detected', {size:7.5});
rect(378.5, 33.5, 110, 7.5, {fill:COL.strip});
rect(489.5, 33.5, 109, 7.5, {fill:COL.strip});
text(433.5, 37.4, bFacets[0], {align:'center', size:6.2});
text(544, 37.4, bFacets[1], {align:'center', size:6.2});
text(361, 106, 'Number of NSCLC cases', {align:'center', size:7.5, rot:Math.PI / 2});
text(493, 191.5, 'Volume ( cm\u00b3)', {align:'center', size:7.5});

// c
letter(116, 244, 'c');
text(75, 319, 'Tumour volume (cm\u00b3)', {align:'center', size:7.5, rot:Math.PI / 2});
text(212, 401.5, 'Clonal ctDNA level (%)', {align:'center', size:7.5});

// table
text(6, 411, tTitle, {size:11, bold:true, color:'#000'});
text(251, 416.5, tResponse, {align:'center', size:7});
line(0, 420.5, 443, 420.5, {stroke:'#8a8a8a', lineWidth:1});
const tColX = [3, 228, 268, 322, 372, 424];
const tRowH = 8.6, tY0 = 425;
tHeaders.forEach((h, c) => text(tColX[c], tY0, h, {size:6.8, italic:true, align:c === 0 ? 'left' : 'center'}));
line(0, tY0 + 4.3, 443, tY0 + 4.3, {stroke:'#c8c8c8', lineWidth:0.5});
tRows.forEach((row, r) => {
  const y = tY0 + (r + 1) * tRowH;
  if (r % 2 === 0) rect(0, y - tRowH / 2, 443, tRowH, {fill:'#d9d9d9'});
  row.forEach((v, c) => { if (v) text(r === 4 && c === 1 ? 205 : tColX[c], y, v, {size:6.8, align:(c === 0 || (r === 4 && c === 1)) ? 'left' : 'center'}); });
});

// d
letter(387, 247, 'd');
text(465, 249, 'Category:', {size:7.5});
text(413, 345, 'Lower 95% ctDNA faction estimate / MDCL', {align:'center', size:7.5, rot:Math.PI / 2});

// e
letter(22, 537, 'e');
text(28, 597, 'Tumour purity', {align:'center', size:10, rot:Math.PI / 2});
poly([[80.3, 552], [80.3, 548], [124.3, 548], [124.3, 552]], {stroke:'#555', lineWidth:0.7});
text(102.3, 543.5, ePValue, {align:'center', size:8});

// f
letter(163, 537, 'f');
text(261.7, 695, '% of patients per', {align:'center', size:9});
text(261.7, 705, 'detection category', {align:'center', size:9});

// g
letter(350, 540, 'g');
text(448, 541, 'ctDNA positive', {align:'center', size:10});
text(633, 541, 'ctDNA low\u2212shedder', {align:'center', size:10});
text(719, 558.5, 'Detection', {size:10});

// h
letter(25, 737, 'h');
text(115, 737, 'Whole Genome Doubling Events', {align:'center', size:10});
text(115, 747.5, '(Any vs none)', {align:'center', size:10});
text(113, 763, hFisher, {align:'center', size:6.5});
text(28, 857, 'Number of patients', {align:'center', size:9.5, rot:Math.PI / 2});

// i
letter(203, 737, 'i');
text(310, 745.5, iPValues[0], {align:'center', size:6.5});
text(310, 753, iPValues[1], {align:'center', size:6.5});
poly([[273, 762], [273, 757.7], [347, 757.7], [347, 762]], {stroke:'#555', lineWidth:0.7});
text(212, 833, 'Volume (cm\u00b3)', {align:'center', size:9.5, rot:Math.PI / 2});

// j, k
letter(389, 737, 'j');
jTitle.forEach((t, i) => text(478, 733 + i * 10, t, {align:'center', size:10}));
jStats.forEach((t, i) => text(480, 758 + i * 8, t, {align:'center', size:6.5}));
letter(573, 737, 'k');
kTitle.forEach((t, i) => text(660, 733 + i * 10, t, {align:'center', size:10}));
kStats.forEach((t, i) => text(660, 758 + i * 8, t, {align:'center', size:6.5}));

// ================= OPTION =================
const option = {
  animation:false,
  backgroundColor:'#ffffff',
  textStyle:{fontFamily:FONT},
  grid:grids, xAxis:xAxes, yAxis:yAxes, series, legend:legends,
  visualMap:[{type:'piecewise', seriesIndex:heatIdx, dimension:2, orient:'horizontal', left:418, top:682, padding:0,
    itemWidth:10, itemHeight:10, itemGap:14, itemSymbol:'rect', textGap:4, align:'left', selectedMode:false,
    textStyle:{fontSize:6.5, color:INK, fontFamily:FONT},
    pieces:[{value:0, label:gStatusLabels[0], color:COL.gNone}, {value:1, label:gStatusLabels[1], color:COL.gClonal}, {value:2, label:gStatusLabels[2], color:COL.gSub}]}],
  graphic:{elements:G}
};
const chart = echarts.init(document.getElementById('chart'), null, {renderer:'canvas', width:800, height:936});
chart.setOption(option);
</script></body></html>
